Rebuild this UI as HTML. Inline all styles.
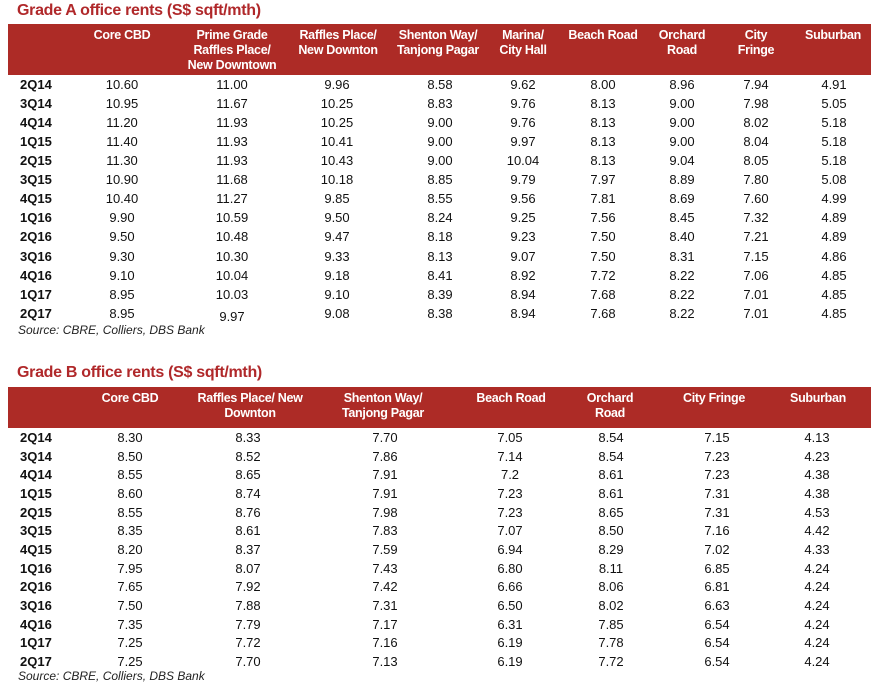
<!DOCTYPE html>
<html><head><meta charset="utf-8"><style>
body{margin:0;width:879px;height:693px;background:#fff;position:relative;overflow:hidden;font-family:"Liberation Sans",sans-serif;}
.t{position:absolute;left:17px;color:#b0282a;font-weight:bold;font-size:16px;letter-spacing:-0.3px}
.hd{position:absolute;left:8px;width:863px;background:#ad2b26}
.h{position:absolute;color:#fff;font-weight:bold;font-size:12.5px;line-height:15px;text-align:center;transform:translateX(-50%);white-space:nowrap;letter-spacing:-0.3px}
.r{position:absolute;left:0;width:879px;height:16px;font-size:13px;line-height:16px;color:#111}
.r span{position:absolute;transform:translateX(-50%)}
.r b{position:absolute;left:20px;font-size:13px}
.s{position:absolute;left:18px;font-style:italic;font-size:12px;color:#222}
</style></head><body>
<div class="t" style="top:2px">Grade A office rents (S$ sqft/mth)</div>
<div class="hd" style="top:24px;height:51px"></div>
<div class="h" style="left:122px;top:28px">Core CBD</div>
<div class="h" style="left:232px;top:28px">Prime Grade<br>Raffles Place/<br>New Downtown</div>
<div class="h" style="left:338px;top:28px">Raffles Place/<br>New Downton</div>
<div class="h" style="left:438px;top:28px">Shenton Way/<br>Tanjong Pagar</div>
<div class="h" style="left:523px;top:28px">Marina/<br>City Hall</div>
<div class="h" style="left:603px;top:28px">Beach Road</div>
<div class="h" style="left:682px;top:28px">Orchard<br>Road</div>
<div class="h" style="left:756px;top:28px">City<br>Fringe</div>
<div class="h" style="left:833px;top:28px">Suburban</div>
<style>
.A span:nth-of-type(1){left:122px}.A span:nth-of-type(2){left:232px}.A span:nth-of-type(3){left:337px}.A span:nth-of-type(4){left:440px}.A span:nth-of-type(5){left:523px}.A span:nth-of-type(6){left:603px}.A span:nth-of-type(7){left:682px}.A span:nth-of-type(8){left:756px}.A span:nth-of-type(9){left:834px}
.B span:nth-of-type(1){left:130px}.B span:nth-of-type(2){left:248px}.B span:nth-of-type(3){left:385px}.B span:nth-of-type(4){left:510px}.B span:nth-of-type(5){left:611px}.B span:nth-of-type(6){left:717px}.B span:nth-of-type(7){left:817px}
</style>
<div class="r A" style="top:77px"><b>2Q14</b><span>10.60</span><span>11.00</span><span>9.96</span><span>8.58</span><span>9.62</span><span>8.00</span><span>8.96</span><span>7.94</span><span>4.91</span></div>
<div class="r A" style="top:96px"><b>3Q14</b><span>10.95</span><span>11.67</span><span>10.25</span><span>8.83</span><span>9.76</span><span>8.13</span><span>9.00</span><span>7.98</span><span>5.05</span></div>
<div class="r A" style="top:115px"><b>4Q14</b><span>11.20</span><span>11.93</span><span>10.25</span><span>9.00</span><span>9.76</span><span>8.13</span><span>9.00</span><span>8.02</span><span>5.18</span></div>
<div class="r A" style="top:134px"><b>1Q15</b><span>11.40</span><span>11.93</span><span>10.41</span><span>9.00</span><span>9.97</span><span>8.13</span><span>9.00</span><span>8.04</span><span>5.18</span></div>
<div class="r A" style="top:153px"><b>2Q15</b><span>11.30</span><span>11.93</span><span>10.43</span><span>9.00</span><span>10.04</span><span>8.13</span><span>9.04</span><span>8.05</span><span>5.18</span></div>
<div class="r A" style="top:172px"><b>3Q15</b><span>10.90</span><span>11.68</span><span>10.18</span><span>8.85</span><span>9.79</span><span>7.97</span><span>8.89</span><span>7.80</span><span>5.08</span></div>
<div class="r A" style="top:191px"><b>4Q15</b><span>10.40</span><span>11.27</span><span>9.85</span><span>8.55</span><span>9.56</span><span>7.81</span><span>8.69</span><span>7.60</span><span>4.99</span></div>
<div class="r A" style="top:210px"><b>1Q16</b><span>9.90</span><span>10.59</span><span>9.50</span><span>8.24</span><span>9.25</span><span>7.56</span><span>8.45</span><span>7.32</span><span>4.89</span></div>
<div class="r A" style="top:229px"><b>2Q16</b><span>9.50</span><span>10.48</span><span>9.47</span><span>8.18</span><span>9.23</span><span>7.50</span><span>8.40</span><span>7.21</span><span>4.89</span></div>
<div class="r A" style="top:249px"><b>3Q16</b><span>9.30</span><span>10.30</span><span>9.33</span><span>8.13</span><span>9.07</span><span>7.50</span><span>8.31</span><span>7.15</span><span>4.86</span></div>
<div class="r A" style="top:268px"><b>4Q16</b><span>9.10</span><span>10.04</span><span>9.18</span><span>8.41</span><span>8.92</span><span>7.72</span><span>8.22</span><span>7.06</span><span>4.85</span></div>
<div class="r A" style="top:287px"><b>1Q17</b><span>8.95</span><span>10.03</span><span>9.10</span><span>8.39</span><span>8.94</span><span>7.68</span><span>8.22</span><span>7.01</span><span>4.85</span></div>
<div class="r A" style="top:306px"><b>2Q17</b><span>8.95</span><span style="top:3px">9.97</span><span>9.08</span><span>8.38</span><span>8.94</span><span>7.68</span><span>8.22</span><span>7.01</span><span>4.85</span></div>
<div class="s" style="top:323px">Source: CBRE, Colliers, DBS Bank</div>

<div class="t" style="top:364px">Grade B office rents (S$ sqft/mth)</div>
<div class="hd" style="top:387px;height:41px"></div>
<div class="h" style="left:130px;top:391px">Core CBD</div>
<div class="h" style="left:250px;top:391px">Raffles Place/ New<br>Downton</div>
<div class="h" style="left:383px;top:391px">Shenton Way/<br>Tanjong Pagar</div>
<div class="h" style="left:511px;top:391px">Beach Road</div>
<div class="h" style="left:610px;top:391px">Orchard<br>Road</div>
<div class="h" style="left:714px;top:391px">City Fringe</div>
<div class="h" style="left:818px;top:391px">Suburban</div>
<div class="r B" style="top:430px"><b>2Q14</b><span>8.30</span><span>8.33</span><span>7.70</span><span>7.05</span><span>8.54</span><span>7.15</span><span>4.13</span></div>
<div class="r B" style="top:449px"><b>3Q14</b><span>8.50</span><span>8.52</span><span>7.86</span><span>7.14</span><span>8.54</span><span>7.23</span><span>4.23</span></div>
<div class="r B" style="top:467px"><b>4Q14</b><span>8.55</span><span>8.65</span><span>7.91</span><span>7.2</span><span>8.61</span><span>7.23</span><span>4.38</span></div>
<div class="r B" style="top:486px"><b>1Q15</b><span>8.60</span><span>8.74</span><span>7.91</span><span>7.23</span><span>8.61</span><span>7.31</span><span>4.38</span></div>
<div class="r B" style="top:505px"><b>2Q15</b><span>8.55</span><span>8.76</span><span>7.98</span><span>7.23</span><span>8.65</span><span>7.31</span><span>4.53</span></div>
<div class="r B" style="top:523px"><b>3Q15</b><span>8.35</span><span>8.61</span><span>7.83</span><span>7.07</span><span>8.50</span><span>7.16</span><span>4.42</span></div>
<div class="r B" style="top:542px"><b>4Q15</b><span>8.20</span><span>8.37</span><span>7.59</span><span>6.94</span><span>8.29</span><span>7.02</span><span>4.33</span></div>
<div class="r B" style="top:561px"><b>1Q16</b><span>7.95</span><span>8.07</span><span>7.43</span><span>6.80</span><span>8.11</span><span>6.85</span><span>4.24</span></div>
<div class="r B" style="top:579px"><b>2Q16</b><span>7.65</span><span>7.92</span><span>7.42</span><span>6.66</span><span>8.06</span><span>6.81</span><span>4.24</span></div>
<div class="r B" style="top:598px"><b>3Q16</b><span>7.50</span><span>7.88</span><span>7.31</span><span>6.50</span><span>8.02</span><span>6.63</span><span>4.24</span></div>
<div class="r B" style="top:617px"><b>4Q16</b><span>7.35</span><span>7.79</span><span>7.17</span><span>6.31</span><span>7.85</span><span>6.54</span><span>4.24</span></div>
<div class="r B" style="top:635px"><b>1Q17</b><span>7.25</span><span>7.72</span><span>7.16</span><span>6.19</span><span>7.78</span><span>6.54</span><span>4.24</span></div>
<div class="r B" style="top:654px"><b>2Q17</b><span>7.25</span><span>7.70</span><span>7.13</span><span>6.19</span><span>7.72</span><span>6.54</span><span>4.24</span></div>
<div class="s" style="top:669px">Source: CBRE, Colliers, DBS Bank</div>
</body></html>
